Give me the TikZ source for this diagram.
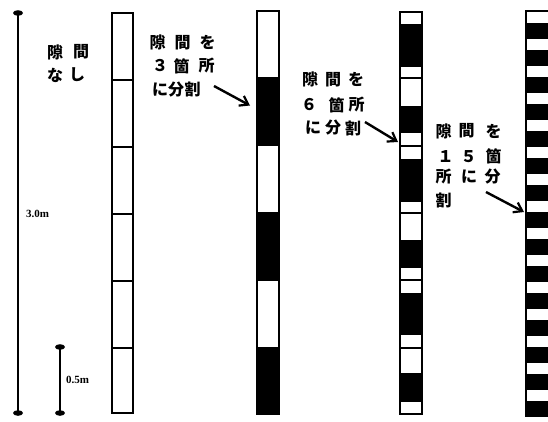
\documentclass[tikz,border=0pt]{standalone}
\usepackage{fontspec}
\setmainfont{Liberation Serif}
\newfontfamily\jp{Noto Sans CJK JP}
\usetikzlibrary{arrows.meta}
\begin{document}
\begin{tikzpicture}[x=1pt,y=-1pt,
  jc/.style={font=\jp\bfseries\fontsize{16}{16}\selectfont, inner sep=0pt},
  lat/.style={font=\bfseries\fontsize{11}{11}\selectfont, inner sep=0pt, anchor=west},
  scaleline/.style={line width=1.4pt},
  barfill/.style={fill=black},
  gap/.style={fill=white},
  pointer/.style={line width=2.4pt, -{Straight Barb[length=8pt,width=11pt,line width=2.2pt]}}]
\useasboundingbox (0,0) rectangle (548,421);
\fill[white] (0,0) rectangle (548,421);

% scales
\coordinate (s1t) at (18,13);
\coordinate (s1b) at (18,413);
\coordinate (s2t) at (60,347);
\coordinate (s2b) at (60,413);
\draw[scaleline] (s1t) -- (s1b);
\draw[scaleline] (s2t) -- (s2b);
\foreach \p in {s1t,s1b,s2t,s2b}
  \fill (\p) ellipse [x radius=5pt, y radius=2.8pt];
\node[lat] (l3) at (26,214) {3.0m};
\node[lat] (l05) at (66,380) {0.5m};

% bar 1: no gaps
\fill[barfill] (111,12) rectangle (134,414);
\foreach \a/\b in {14/78.5, 80.5/145.5, 147.5/212.5, 214.5/279.5, 281.5/346.5, 348.5/412}
  \fill[gap] (113,\a) rectangle (132,\b);

% bar 2: 3 gaps
\fill[barfill] (256,10) rectangle (280,415);
\foreach \a/\b in {12/77, 146/211.5, 281/346.5}
  \fill[gap] (258,\a) rectangle (278,\b);

% bar 3: 6 gaps
\fill[barfill] (399,11) rectangle (423,415);
\foreach \a/\b in {12.5/24, 67/77.3, 79.3/106, 133/144.7, 146.7/158.5, 202/212,
                   214/240, 267.5/279.3, 281.3/292.5, 335/346.7, 348.7/373, 402/413}
  \fill[gap] (401,\a) rectangle (421,\b);

% bar 4: 15 gaps
\fill[barfill] (525,10) rectangle (556,417);
\foreach \k in {0,...,14}
  \fill[gap] (527,12+27*\k) rectangle (556,23+27*\k);

% labels column 1
\node[jc] (a1) at (55,52) {隙};
\node[jc] (a2) at (81,52) {間};
\node[jc] (a3) at (55,75) {な};
\node[jc] (a4) at (77,75) {し};

% labels column 2
\node[jc] (b1) at (157.5,42.5) {隙};
\node[jc] (b2) at (182.5,42.5) {間};
\node[jc] (b3) at (207.5,42.5) {を};
\node[jc] (b4) at (160,66) {３};
\node[jc] (b5) at (181.5,66) {箇};
\node[jc] (b6) at (206.5,66) {所};
\node[jc] (b7) at (160,89.5) {に};
\node[jc] (b8) at (176,89.5) {分};
\node[jc] (b9) at (192.5,89.5) {割};

% labels column 3
\node[jc] (c1) at (310,79.5) {隙};
\node[jc] (c2) at (333,79.5) {間};
\node[jc] (c3) at (356,79.5) {を};
\node[jc] (c4) at (309,105) {６};
\node[jc] (c5) at (336.5,105) {箇};
\node[jc] (c6) at (356.5,105) {所};
\node[jc] (c7) at (313,128) {に};
\node[jc] (c8) at (333,128) {分};
\node[jc] (c9) at (353,128) {割};

% labels column 4
\node[jc] (d1) at (443.5,131) {隙};
\node[jc] (d2) at (466.5,131) {間};
\node[jc] (d3) at (493.5,131) {を};
\node[jc] (d4) at (445.5,156.5) {１};
\node[jc] (d5) at (468.5,156.5) {５};
\node[jc] (d6) at (493.5,156.5) {箇};
\node[jc] (d7) at (443.5,177) {所};
\node[jc] (d8) at (469,177) {に};
\node[jc] (d9) at (492.5,177) {分};
\node[jc] (d10) at (443.5,200) {割};

% arrows
\coordinate (p2s) at (214,86);
\coordinate (p2e) at (250,105.5);
\coordinate (p3s) at (365,122);
\coordinate (p3e) at (398,142);
\coordinate (p4s) at (486,192);
\coordinate (p4e) at (524,212);
\draw[pointer] (p2s) -- (p2e);
\draw[pointer] (p3s) -- (p3e);
\draw[pointer] (p4s) -- (p4e);
\end{tikzpicture}
\end{document}
